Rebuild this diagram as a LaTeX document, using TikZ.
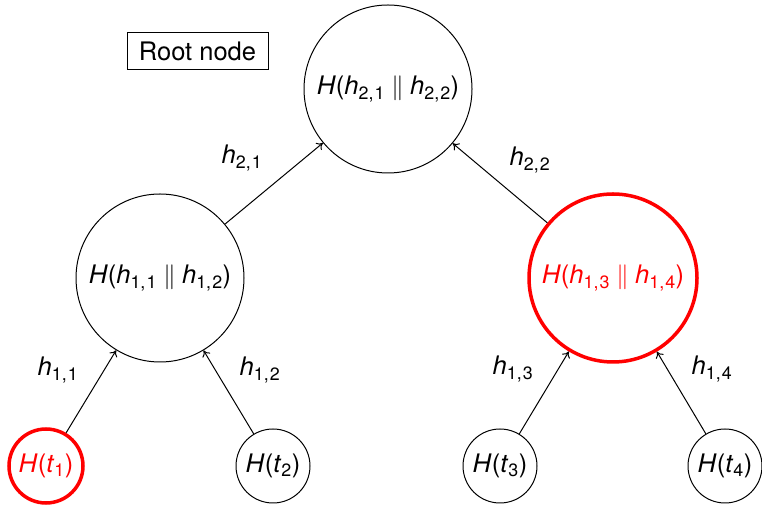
\documentclass[tikz,border=0pt]{standalone}
\usepackage{fontspec}
\setmainfont{TeX Gyre Heros}
\usetikzlibrary{arrows.meta}
\newcommand{\sbx}[1]{\textsubscript{#1}}
\newcommand{\hs}[2]{\textit{h}\sbx{#1,\kern0.06em#2}}
\newcommand{\cat}{\kern0.25em{\normalfont$\parallel$}\kern0.25em}
\definecolor{hl}{RGB}{255,0,0}
\tikzset{
  big/.style={circle, draw=black, line width=1pt, minimum size=168pt, inner sep=0pt},
  leaf/.style={circle, draw=black, line width=1pt, minimum size=74pt, inner sep=0pt},
  marked/.style={draw=hl, text=hl, line width=3.5pt},
  edge/.style={line width=1pt, -{To[length=6pt,width=9pt]}},
  lbl/.style={inner sep=0pt},
  tag/.style={draw=black, line width=1pt, minimum width=141pt, minimum height=37pt, inner sep=0pt}
}
\begin{document}
\begin{tikzpicture}[x=1pt, y=1pt, font=\fontsize{25.5}{30}\selectfont]
\useasboundingbox (0,0) rectangle (762,505);
\node[big] (root) at (388,416) {\textit{H}(\hs{2}{1}\cat\hs{2}{2})};
\node[big] (m1) at (160,227) {\textit{H}(\hs{1}{1}\cat\hs{1}{2})};
\node[big, marked] (m2) at (613,227) {\textit{H}(\hs{1}{3}\cat\hs{1}{4})};
\node[leaf, marked] (l1) at (46,39) {\textit{H}(\textit{t}\sbx{1})};
\node[leaf] (l2) at (273,39) {\textit{H}(\textit{t}\sbx{2})};
\node[leaf] (l3) at (500,39) {\textit{H}(\textit{t}\sbx{3})};
\node[leaf] (l4) at (725,39) {\textit{H}(\textit{t}\sbx{4})};
\node[tag] (rootlbl) at (197.5,453.5) {Root node};
\draw[edge] (m1) -- (root);
\draw[edge] (m2) -- (root);
\draw[edge] (l1) -- (m1);
\draw[edge] (l2) -- (m1);
\draw[edge] (l3) -- (m2);
\draw[edge] (l4) -- (m2);
\node[lbl] (e21) at (242,347) {\hs{2}{1}};
\node[lbl] (e22) at (530,345) {\hs{2}{2}};
\node[lbl] (e11) at (58,135) {\hs{1}{1}};
\node[lbl] (e12) at (260,135) {\hs{1}{2}};
\node[lbl] (e13) at (513,136) {\hs{1}{3}};
\node[lbl] (e14) at (712,136) {\hs{1}{4}};
\end{tikzpicture}
\end{document}
